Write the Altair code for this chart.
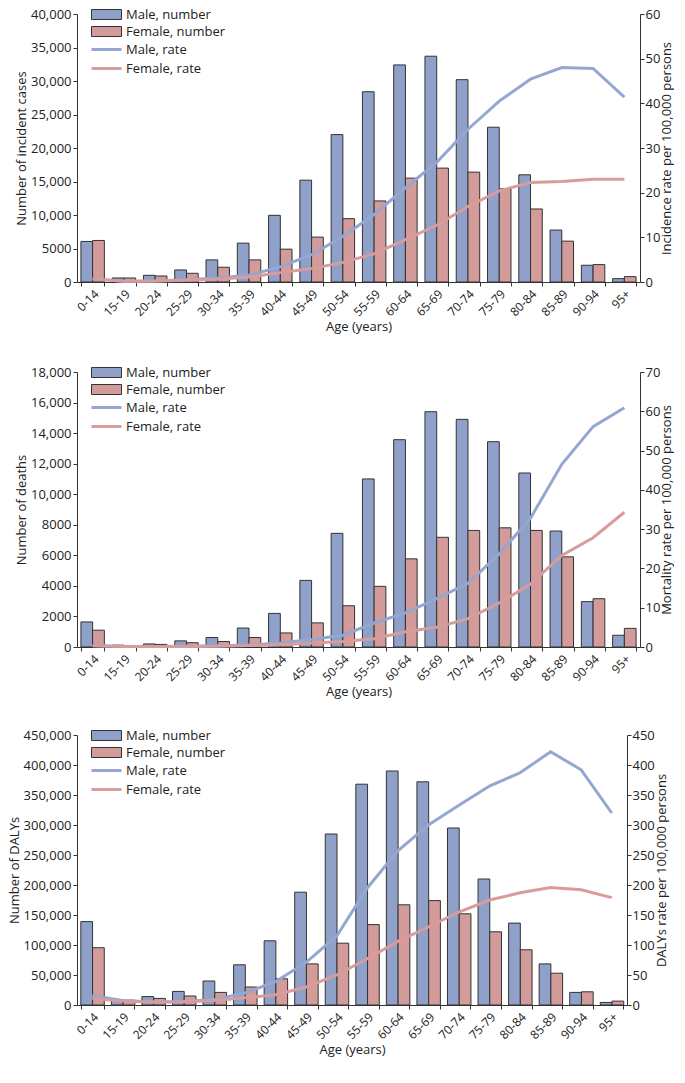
import altair as alt
import pandas as pd

ages = ["0-14", "15-19", "20-24", "25-29", "30-34", "35-39", "40-44", "45-49", "50-54",
        "55-59", "60-64", "65-69", "70-74", "75-79", "80-84", "85-89", "90-94", "95+"]

# Panel 1: incidence
inc_male_n = [6050, 600, 1000, 1800, 3300, 5800, 9950, 15200, 22000, 28400, 32400, 33700,
              30200, 23100, 16000, 7750, 2500, 500]
inc_female_n = [6200, 600, 900, 1300, 2200, 3300, 4900, 6700, 9450, 12100, 15500, 17000,
                16400, 13900, 10900, 6100, 2600, 800]
inc_male_r = [0.7, 0.15, 0.2, 0.5, 0.9, 1.5, 3.4, 6.1, 10.2, 15.1, 21.1, 26.8, 34.2, 40.5,
              45.4, 48.0, 47.8, 41.4]
inc_female_r = [0.7, 0.15, 0.2, 0.4, 0.6, 1.1, 2.1, 3.0, 4.4, 6.3, 9.5, 12.7, 16.9, 20.4,
                22.3, 22.5, 23.0, 23.0]

# Panel 2: deaths
dth_male_n = [1640, 120, 200, 400, 620, 1240, 2200, 4360, 7440, 11000, 13570, 15400, 14900,
              13440, 11390, 7590, 2970, 770]
dth_female_n = [1100, 100, 170, 280, 360, 620, 920, 1580, 2700, 3970, 5770, 7180, 7630, 7800,
                7630, 5900, 3160, 1220]
dth_male_r = [0.4, 0.1, 0.15, 0.2, 0.3, 0.5, 1.0, 1.9, 3.0, 6.1, 8.7, 12.3, 16.2, 23.7, 32.8,
              46.5, 56.1, 60.9]
dth_female_r = [0.3, 0.1, 0.1, 0.15, 0.2, 0.35, 0.6, 1.0, 1.4, 2.1, 3.9, 5.0, 7.2, 11.2, 16.0,
                23.3, 27.8, 34.3]

# Panel 3: DALYs
daly_male_n = [139000, 9000, 14000, 22700, 40000, 67000, 107000, 188000, 285000, 368000,
               390000, 372000, 295000, 210000, 136500, 68500, 21000, 4300]
daly_female_n = [95500, 8000, 11000, 15000, 21000, 30000, 43700, 68500, 103000, 134000,
                 167000, 174000, 152000, 122000, 92000, 53000, 22000, 6500]
daly_male_r = [15.6, 7.5, 5, 6, 9, 20, 39, 71, 115, 195, 257, 300, 333, 365, 387, 422, 392, 320]
daly_female_r = [11, 6.5, 5, 5.5, 7.5, 12, 17, 30, 50, 77, 106, 130, 155, 175, 187, 196, 192, 179]

bar_series = ["Male, number", "Female, number"]
line_series = ["Male, rate", "Female, rate"]
bar_colors = ["#8FA1C8", "#D49B9B"]
line_colors = ["#94A7D3", "#D99C9C"]

FONT = "Open Sans"
TXT = "#222222"


def panel(mn, fn, mr, fr, ltitle, rtitle, lmax, lstep, rmax, rstep, w, h):
    bars_df = pd.DataFrame({
        "age": ages * 2,
        "series": [bar_series[0]] * len(ages) + [bar_series[1]] * len(ages),
        "value": mn + fn,
    })
    lines_df = pd.DataFrame({
        "age": ages * 2,
        "series": [line_series[0]] * len(ages) + [line_series[1]] * len(ages),
        "value": mr + fr,
    })
    x = alt.X("age:N", sort=ages,
              scale=alt.Scale(paddingInner=0.25, paddingOuter=0.125),
              axis=alt.Axis(title="Age (years)", labelAngle=-45, tickBand="extent",
                            labelFontSize=12, titlePadding=3))
    bars = alt.Chart(bars_df).mark_bar(stroke="#333333", strokeWidth=1).encode(
        x=x,
        xOffset=alt.XOffset("series:N", sort=bar_series,
                            scale=alt.Scale(paddingInner=0, paddingOuter=0)),
        y=alt.Y("value:Q", scale=alt.Scale(domain=[0, lmax], nice=False),
                axis=alt.Axis(title=ltitle, values=list(range(0, lmax + 1, lstep)),
                              titlePadding=2,
                              labelExpr="datum.value >= 10000 ? format(datum.value, ',') : format(datum.value, 'd')")),
        fill=alt.Fill("series:N", sort=bar_series,
                      scale=alt.Scale(domain=bar_series, range=bar_colors),
                      legend=alt.Legend(title=None, orient="none", legendX=23, legendY=-6,
                                        symbolType="M-3,-1H3V1H-3Z", symbolSize=100,
                                        symbolStrokeColor="#333333", symbolStrokeWidth=1,
                                        symbolOpacity=1,
                                        labelOffset=13, rowPadding=2, padding=0,
                                        labelFontSize=13, labelFont=FONT, labelColor=TXT)),
    )
    lines = alt.Chart(lines_df).mark_line(strokeWidth=3).encode(
        x=x,
        y=alt.Y("value:Q", scale=alt.Scale(domain=[0, rmax], nice=False),
                axis=alt.Axis(title=rtitle, orient="right", titlePadding=1, titleAngle=270,
                              titleBaseline="top", labelPadding=1,
                              values=list(range(0, rmax + 1, rstep)))),
        stroke=alt.Stroke("series:N", sort=line_series,
                          scale=alt.Scale(domain=line_series, range=line_colors),
                          legend=alt.Legend(title=None, orient="none", legendX=23, legendY=29,
                                            symbolType="M-3,0H3", symbolSize=100,
                                            symbolStrokeWidth=3, symbolOpacity=1,
                                            labelOffset=13, rowPadding=5, padding=0,
                                            labelFontSize=13, labelFont=FONT, labelColor=TXT)),
    )
    return alt.layer(bars, lines).resolve_scale(y="independent").properties(width=w, height=h)


p1 = panel(inc_male_n, inc_female_n, inc_male_r, inc_female_r,
           "Number of incident cases", "Incidence rate per 100,000 persons",
           40000, 5000, 60, 10, 563, 268)
p2 = panel(dth_male_n, dth_female_n, dth_male_r, dth_female_r,
           "Number of deaths", "Mortality rate per 100,000 persons",
           18000, 2000, 70, 10, 563, 275)
p3 = panel(daly_male_n, daly_female_n, daly_male_r, daly_female_r,
           "Number of DALYs", "DALYs rate per 100,000 persons",
           450000, 50000, 450, 50, 550, 270)

top_two = alt.vconcat(p1, p2, spacing=32).resolve_scale(
    fill="independent", stroke="independent", x="independent"
).resolve_legend(fill="independent", stroke="independent")

chart = alt.vconcat(top_two, p3, spacing=30).resolve_scale(
    fill="independent", stroke="independent", x="independent"
).resolve_legend(fill="independent", stroke="independent").properties(
    padding={"left": 0, "top": 0, "right": 0, "bottom": 0}
).configure(font=FONT).configure_view(stroke=None).configure_axis(
    grid=False, domainColor="#333333", tickColor="#333333", labelColor=TXT, titleColor=TXT,
    labelFont=FONT, titleFont=FONT, labelFontSize=13, titleFontSize=13,
    titleFontWeight="normal", tickSize=4, labelPadding=2
)

chart.save("out.html", embed_options={"renderer": "svg", "actions": False})
